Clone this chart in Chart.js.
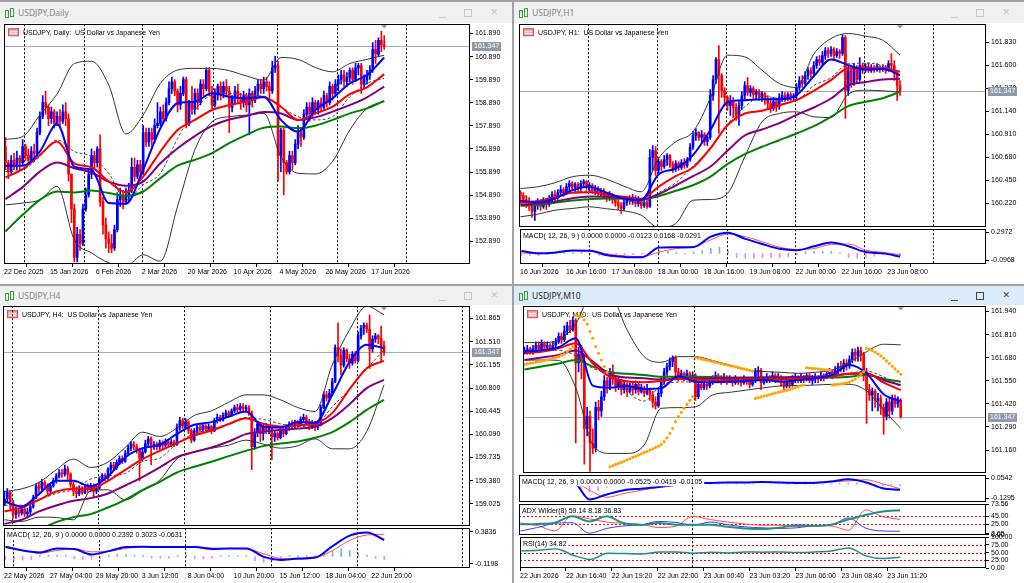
<!DOCTYPE html>
<html>
<head>
<meta charset="utf-8">
<script src="https://cdn.jsdelivr.net/npm/chart.js@4.4.1/dist/chart.umd.min.js"></script>
<style>
body { margin: 0; width: 1024px; height: 583px; background: #a3a3a3; position: relative; overflow: hidden; }
.win { position: absolute; background: #fff; }
.tb { position: absolute; left: 0; top: 0; right: 0; background: #f0f0f0; }
.tb.act { background: #dcebfa; }
.tt { position: absolute; left: 18px; top: 0; font: 8.5px "Noto Sans", sans-serif; color: #868686; }
.act .tt { color: #2a2a2a; }
.ic { position: absolute; left: 5px; width: 10px; height: 11px; }
.ic i { position: absolute; width: 2px; border: 1px solid #3aa03a; }
.ic i:first-child { left: 0; top: 2px; height: 6px; }
.ic i:last-child { left: 5px; top: 0; height: 7px; }
.mn { position: absolute; right: 66px; width: 7px; height: 1px; background: #c6c6c6; }
.mx { position: absolute; right: 40px; width: 6px; height: 6px; border: 1px solid #c6c6c6; }
.cl { position: absolute; right: 14px; font: 9px "DejaVu Sans", sans-serif; color: #c6c6c6; }
.act .mn { background: #444; }
.act .mx { border-color: #444; }
.act .cl { color: #444; }
canvas { position: absolute; }
</style>
</head>
<body>
<script>
// ---------- common axis data ----------
const LABEL_STEP = 16;   // bars between time labels
const LINE_STEP = 6;     // bars between indicator samples
const HIST_STEP = 3;     // bars between histogram samples
const CURRENT_PRICE = 161.347;

// ---------- Daily ----------
const dailyXLabels = ['22 Dec 2025', '15 Jan 2026', '6 Feb 2026', '2 Mar 2026', '20 Mar 2026', '10 Apr 2026', '4 May 2026', '26 May 2026', '17 Jun 2026'];
const dailyYTicks = [161.89, 160.89, 159.89, 158.89, 157.89, 156.89, 155.89, 154.89, 153.89, 152.89];
const dailySeps = [6.5, 27.5, 47.5, 72.5, 94.5, 115.5, 139.5];
const dailyOpen0 = 157.0;
const dailyClose = [
  156.3, 155.9, 156.4, 156.2, 156.5, 156.3, 157.0, 156.6, 156.4, 156.8,
  156.7, 157.6, 158.3, 158.9, 158.7, 158.2, 158.5, 158.0, 158.3, 158.1,
  158.5, 158.2, 155.8, 154.3, 152.2, 153.2, 152.8, 154.3, 154.9, 155.8,
  156.6, 156.3, 156.9, 154.6, 153.6, 153.0, 152.8, 152.6, 153.4, 154.7,
  154.9, 154.6, 154.9, 155.1, 156.1, 155.7, 156.2, 155.9, 157.6, 157.2,
  157.6, 157.3, 157.9, 158.0, 158.5, 158.2, 158.9, 159.5, 159.8, 159.4,
  158.8, 159.3, 159.9, 158.0, 158.9, 158.6, 159.3, 158.9, 159.7, 159.5,
  160.3, 159.4, 158.8, 159.3, 159.6, 159.3, 159.6, 159.4, 158.7, 159.1,
  159.4, 159.1, 158.9, 159.2, 158.8, 159.3, 159.0, 159.4, 159.7, 159.5,
  159.8, 159.6, 159.4, 160.4, 160.5, 156.6, 157.7, 156.3, 155.9, 156.6,
  156.3, 157.1, 157.6, 157.4, 158.4, 158.7, 158.4, 158.9, 158.6, 158.9,
  158.7, 159.2, 158.9, 159.6, 159.3, 159.7, 159.9, 160.1, 159.8, 160.0,
  160.3, 159.9, 160.4, 160.5, 159.7, 159.9, 160.1, 160.3, 161.2, 161.0,
  161.6, 161.4, 161.347];
const dailyHigh = [
  157.4, 156.4, 156.6, 156.7, 156.8, 156.6, 157.3, 157.1, 156.9, 157.0,
  157.1, 157.8, 158.5, 159.2, 159.4, 158.8, 158.7, 158.6, 158.5, 158.6,
  158.8, 158.9, 158.4, 155.8, 154.5, 153.5, 153.4, 154.5, 155.2, 156.0,
  156.9, 156.8, 157.0, 157.5, 154.8, 153.9, 153.3, 153.2, 153.6, 155.0,
  155.2, 155.1, 155.2, 155.4, 156.5, 156.5, 156.4, 156.4, 157.9, 157.8,
  157.8, 157.8, 158.2, 158.9, 158.7, 158.8, 159.1, 159.8, 160.0, 159.9,
  159.5, 159.6, 160.0, 160.0, 159.0, 159.6, 159.5, 159.5, 159.9, 159.9,
  160.4, 160.4, 159.6, 159.5, 159.7, 159.8, 159.8, 159.9, 159.6, 159.2,
  159.6, 159.7, 159.3, 159.4, 159.3, 159.5, 159.4, 159.6, 159.9, 159.9,
  160.0, 160.0, 159.8, 160.7, 160.9, 160.7, 157.8, 157.8, 156.4, 156.8,
  156.8, 157.3, 157.9, 157.8, 158.6, 158.9, 158.9, 159.1, 159.0, 159.0,
  159.1, 159.4, 159.3, 159.8, 159.7, 159.9, 160.1, 160.3, 160.3, 160.2,
  160.4, 160.4, 160.6, 160.6, 160.6, 160.1, 160.3, 160.5, 161.5, 161.6,
  161.7, 162.0, 161.8];
const dailyLow = [
  156.0, 155.6, 155.8, 156.0, 156.0, 156.0, 156.2, 156.4, 156.2, 156.3,
  156.4, 156.6, 157.5, 158.2, 158.4, 157.9, 158.0, 157.8, 157.9, 157.8,
  158.0, 157.9, 155.5, 153.7, 152.0, 152.0, 152.5, 152.7, 154.2, 154.8,
  155.6, 156.0, 156.1, 154.4, 153.2, 152.6, 152.4, 152.4, 152.5, 153.3,
  154.4, 154.3, 154.5, 154.6, 155.0, 155.5, 155.6, 155.6, 155.8, 157.0,
  157.0, 157.0, 157.2, 157.8, 157.9, 158.0, 158.1, 158.8, 159.3, 159.2,
  158.5, 158.6, 159.2, 157.8, 157.9, 158.4, 158.4, 158.6, 158.8, 159.2,
  159.4, 159.2, 158.6, 158.7, 159.0, 159.0, 159.1, 159.2, 157.6, 158.5,
  158.9, 158.9, 158.6, 158.7, 158.5, 157.5, 158.7, 158.9, 159.2, 159.3,
  159.3, 159.4, 159.1, 159.3, 160.2, 155.5, 155.9, 154.9, 155.8, 155.8,
  156.0, 156.2, 156.9, 157.0, 157.3, 158.2, 158.1, 158.3, 158.4, 158.4,
  158.5, 158.6, 158.7, 158.8, 159.0, 159.2, 159.4, 159.7, 159.6, 159.6,
  159.8, 159.7, 159.8, 160.1, 159.3, 159.5, 159.7, 159.9, 160.2, 160.6,
  160.9, 161.1, 161.2];
const dailyMaFast = [156.17, 156.17, 156.78, 157.97, 156.13, 155.99, 154.55, 154.52, 155.99, 157.79, 158.87, 158.94, 159.30, 159.15, 159.08, 159.15, 158.15, 157.64, 158.58, 159.08, 159.73, 160.09, 160.85];
const dailyMaMid = [155.66, 156.02, 156.63, 157.21, 156.27, 156.10, 155.48, 155.01, 155.70, 156.78, 157.71, 158.15, 158.58, 158.79, 158.94, 159.13, 158.72, 158.15, 158.43, 158.72, 159.27, 159.56, 160.13];
const dailyMaSlow = [154.72, 155.24, 155.91, 156.30, 156.06, 155.87, 155.48, 155.30, 155.48, 156.27, 156.92, 157.45, 157.89, 158.17, 158.32, 158.49, 158.43, 158.15, 158.26, 158.51, 158.79, 159.13, 159.59];
const dailyMaLong = [153.32, 154.04, 154.69, 155.05, 155.01, 155.09, 154.98, 154.86, 155.05, 155.63, 156.17, 156.42, 156.71, 157.14, 157.50, 157.81, 157.86, 157.79, 157.90, 158.15, 158.43, 158.65, 158.97];
const dailyBbUp = [157.31, 157.43, 158.36, 159.27, 160.59, 160.69, 159.66, 157.54, 158.36, 159.73, 160.31, 160.38, 160.38, 160.28, 160.05, 159.87, 160.85, 160.77, 160.42, 160.23, 160.59, 160.77, 160.95];
const dailyBbLow = [154.47, 154.55, 154.69, 155.27, 152.96, 152.39, 151.96, 151.81, 152.31, 152.03, 154.41, 156.85, 158.07, 158.29, 158.36, 158.43, 156.56, 155.84, 155.81, 156.35, 157.71, 158.65, 158.94];
const dailyBbMid = [155.91, 155.99, 156.56, 157.28, 156.78, 156.56, 155.84, 154.69, 155.34, 155.84, 157.35, 158.58, 159.23, 159.30, 159.23, 159.15, 158.72, 158.29, 158.15, 158.29, 159.15, 159.73, 159.95];

// ---------- H1 ----------
const h1XLabels = ['16 Jun 2026', '16 Jun 16:00', '17 Jun 08:00', '18 Jun 00:00', '18 Jun 16:00', '19 Jun 08:00', '22 Jun 00:00', '22 Jun 16:00', '23 Jun 08:00'];
const h1YTicks = [161.83, 161.60, 161.37, 161.14, 160.91, 160.68, 160.45, 160.22];
const h1Seps = [23.5, 47.5, 71.5, 95.5, 119.5, 143.5];
const h1Open0 = 160.33;
const h1Close = [
  160.30, 160.26, 160.24, 160.20, 160.14, 160.20, 160.22, 160.19, 160.24, 160.21,
  160.27, 160.31, 160.28, 160.33, 160.36, 160.32, 160.39, 160.42, 160.38, 160.41,
  160.37, 160.42, 160.44, 160.38, 160.40, 160.35, 160.37, 160.33, 160.35, 160.30,
  160.27, 160.31, 160.26, 160.23, 160.20, 160.17, 160.23, 160.27, 160.24, 160.28,
  160.22, 160.25, 160.20, 160.23, 160.19, 160.68, 160.75, 160.55, 160.64, 160.59,
  160.66, 160.70, 160.61, 160.57, 160.62, 160.58, 160.63, 160.60, 160.66, 160.78,
  160.90, 160.93, 160.88, 160.91, 160.84, 160.88, 161.30, 161.46, 161.66, 161.50,
  161.35, 161.28, 161.20, 161.25, 161.18, 161.10, 161.20, 161.30, 161.40, 161.33,
  161.37, 161.31, 161.34, 161.28, 161.32, 161.26, 161.22, 161.17, 161.24, 161.19,
  161.28, 161.30, 161.27, 161.31, 161.28, 161.30, 161.38, 161.45, 161.42, 161.50,
  161.55, 161.52, 161.60, 161.66, 161.63, 161.70, 161.75, 161.72, 161.76, 161.70,
  161.74, 161.72, 161.88, 161.35, 161.55, 161.42, 161.57, 161.46, 161.60, 161.56,
  161.59, 161.55, 161.58, 161.56, 161.59, 161.56, 161.58, 161.55, 161.62, 161.60,
  161.52, 161.40, 161.347];
const h1High = [
  160.35, 160.33, 160.30, 160.28, 160.23, 160.24, 160.27, 160.26, 160.28, 160.27,
  160.30, 160.34, 160.35, 160.36, 160.40, 160.38, 160.42, 160.45, 160.44, 160.43,
  160.43, 160.45, 160.46, 160.45, 160.43, 160.42, 160.40, 160.39, 160.37, 160.37,
  160.33, 160.34, 160.32, 160.29, 160.27, 160.23, 160.26, 160.29, 160.30, 160.31,
  160.30, 160.29, 160.27, 160.27, 160.25, 160.76, 160.80, 160.79, 160.68, 160.66,
  160.70, 160.72, 160.71, 160.64, 160.65, 160.64, 160.66, 160.67, 160.68, 160.82,
  160.94, 160.97, 160.94, 160.95, 160.93, 160.90, 161.36, 161.50, 161.68, 161.80,
  161.52, 161.38, 161.30, 161.30, 161.28, 161.22, 161.24, 161.34, 161.44, 161.48,
  161.40, 161.39, 161.36, 161.36, 161.34, 161.33, 161.30, 161.25, 161.28, 161.27,
  161.32, 161.34, 161.33, 161.33, 161.33, 161.32, 161.42, 161.49, 161.50, 161.54,
  161.58, 161.58, 161.64, 161.69, 161.70, 161.74, 161.78, 161.78, 161.79, 161.78,
  161.77, 161.76, 161.91, 161.90, 161.60, 161.58, 161.62, 161.60, 161.68, 161.62,
  161.62, 161.63, 161.61, 161.60, 161.62, 161.60, 161.61, 161.60, 161.65, 161.72,
  161.65, 161.55, 161.45];
const h1Low = [
  160.22, 160.22, 160.18, 160.15, 160.08, 160.05, 160.16, 160.15, 160.17, 160.16,
  160.19, 160.24, 160.25, 160.26, 160.30, 160.29, 160.31, 160.35, 160.35, 160.34,
  160.33, 160.35, 160.38, 160.36, 160.33, 160.32, 160.31, 160.30, 160.29, 160.27,
  160.24, 160.25, 160.22, 160.19, 160.16, 160.12, 160.15, 160.20, 160.21, 160.21,
  160.19, 160.19, 160.17, 160.18, 160.17, 160.18, 160.55, 160.50, 160.52, 160.55,
  160.57, 160.60, 160.58, 160.53, 160.54, 160.55, 160.56, 160.57, 160.58, 160.64,
  160.76, 160.85, 160.85, 160.84, 160.80, 160.80, 160.86, 161.25, 161.42, 160.92,
  161.28, 161.20, 161.15, 161.10, 161.08, 161.05, 161.00, 161.16, 161.26, 161.30,
  161.29, 161.27, 161.26, 161.25, 161.24, 161.21, 161.17, 161.13, 161.15, 161.14,
  161.16, 161.24, 161.24, 161.25, 161.25, 161.24, 161.26, 161.35, 161.38, 161.40,
  161.46, 161.48, 161.50, 161.57, 161.60, 161.60, 161.66, 161.68, 161.69, 161.66,
  161.68, 161.67, 161.70, 161.07, 161.30, 161.38, 161.40, 161.42, 161.44, 161.52,
  161.53, 161.53, 161.53, 161.53, 161.54, 161.53, 161.54, 161.52, 161.54, 161.56,
  161.45, 161.25, 161.30];
const h1MaFast = [160.247, 160.233, 160.27, 160.353, 160.387, 160.327, 160.27, 160.257, 160.51, 160.57, 160.703, 160.953, 161.233, 161.253, 161.263, 161.263, 161.303, 161.493, 161.66, 161.603, 161.56, 161.567, 161.503];
const h1MaMid = [160.227, 160.243, 160.28, 160.327, 160.333, 160.307, 160.287, 160.267, 160.387, 160.493, 160.58, 160.77, 161.003, 161.12, 161.147, 161.203, 161.253, 161.347, 161.453, 161.57, 161.57, 161.57, 161.537];
const h1MaSlow = [160.207, 160.22, 160.24, 160.273, 160.29, 160.287, 160.273, 160.26, 160.313, 160.4, 160.493, 160.587, 160.747, 160.9, 160.96, 161.023, 161.107, 161.18, 161.27, 161.4, 161.433, 161.46, 161.467];
const h1MaLong = [160.197, 160.207, 160.227, 160.25, 160.263, 160.27, 160.267, 160.26, 160.293, 160.347, 160.403, 160.487, 160.613, 160.713, 160.787, 160.853, 160.92, 160.993, 161.087, 161.193, 161.237, 161.273, 161.337];
const h1BbUp = [160.37, 160.387, 160.427, 160.487, 160.503, 160.463, 160.393, 160.337, 160.67, 160.837, 160.937, 161.27, 161.703, 161.687, 161.553, 161.42, 161.38, 161.713, 161.87, 161.92, 161.893, 161.853, 161.703];
const h1BbLow = [160.087, 160.113, 160.153, 160.17, 160.187, 160.167, 160.147, 160.103, 159.98, 160.02, 160.253, 160.26, 160.32, 160.687, 161.037, 161.12, 161.137, 161.087, 161.08, 161.313, 161.353, 161.347, 161.333];
const h1BbMid = [160.23, 160.25, 160.29, 160.327, 160.347, 160.317, 160.27, 160.22, 160.327, 160.427, 160.593, 160.767, 161.013, 161.187, 161.293, 161.27, 161.26, 161.4, 161.477, 161.617, 161.623, 161.6, 161.52];
const h1MacdMain = [0.0316, -0.0005, 0.0132, 0.0407, 0.0361, -0.028, -0.0509, -0.0555, 0.0819, 0.0865, 0.0911, 0.2377, 0.2926, 0.2056, 0.1323, 0.0636, 0.0453, 0.1003, 0.1552, 0.1003, 0.0178, -0.0005, -0.0463];
const h1MacdSignal = [0.0087, -0.0051, 0.0087, 0.0361, 0.0361, -0.0097, -0.0371, -0.0463, 0.0178, 0.0682, 0.0911, 0.1919, 0.2743, 0.2377, 0.1644, 0.0865, 0.0544, 0.0682, 0.1277, 0.1323, 0.0453, 0.0132, -0.0188];
const h1MacdHist = [-0.03, -0.03, -0.03, -0.02, 0.01, 0.01, 0.01, 0.01, -0.02, -0.03, -0.03, -0.03, -0.02, -0.02, -0.01, 0.03, 0.04, 0.03, 0.01, -0.01, 0.02, 0.04, 0.07, 0.09, 0.04, -0.06, -0.07, -0.07, -0.06, -0.06, -0.06, -0.05, -0.02, 0.02, 0.03, 0.03, 0.03, 0.01, -0.06, -0.07, -0.06, -0.04, -0.02, -0.01, -0.03];

// ---------- H4 ----------
const h4XLabels = ['22 May 2026', '27 May 04:00', '29 May 20:00', '3 Jun 12:00', '8 Jun 04:00', '10 Jun 20:00', '15 Jun 12:00', '18 Jun 04:00', '22 Jun 20:00'];
const h4YTicks = [161.865, 161.51, 161.155, 160.80, 160.445, 160.09, 159.735, 159.38, 159.025];
const h4Seps = [2.5, 32.5, 62.5, 92.5, 122.5, 159];
const h4Open0 = 159.00;
const h4Close = [
  159.10, 159.20, 159.05, 158.86, 158.92, 158.88, 158.95, 158.87, 158.90, 158.98,
  159.12, 159.30, 159.26, 159.35, 159.30, 159.22, 159.30, 159.38, 159.45, 159.50,
  159.48, 159.56, 159.48, 159.32, 159.22, 159.18, 159.26, 159.20, 159.28, 159.24,
  159.30, 159.22, 159.26, 159.40, 159.46, 159.42, 159.55, 159.62, 159.58, 159.66,
  159.72, 159.68, 159.80, 159.88, 159.94, 159.90, 159.85, 159.72, 159.82, 159.95,
  160.02, 159.90, 159.94, 159.90, 159.96, 159.92, 159.98, 159.94, 159.97, 159.93,
  160.20, 160.30, 160.22, 160.28, 160.15, 160.00, 160.14, 160.20, 160.16, 160.22,
  160.17, 160.21, 160.14, 160.30, 160.35, 160.31, 160.38, 160.42, 160.38, 160.45,
  160.50, 160.47, 160.52, 160.48, 160.50, 160.42, 159.90, 160.12, 160.25, 160.10,
  160.20, 160.16, 160.18, 160.05, 160.10, 160.04, 160.15, 160.10, 160.20, 160.24,
  160.22, 160.28, 160.24, 160.32, 160.35, 160.28, 160.22, 160.26, 160.20, 160.24,
  160.50, 160.70, 160.65, 160.72, 160.90, 161.42, 161.30, 161.15, 161.38, 161.25,
  161.18, 161.32, 161.22, 161.60, 161.72, 161.76, 161.70, 161.40, 161.55, 161.60,
  161.56, 161.45, 161.347];
const h4High = [
  159.22, 159.26, 159.22, 159.08, 158.98, 158.96, 158.99, 158.97, 158.96, 159.02,
  159.16, 159.33, 159.36, 159.40, 159.38, 159.33, 159.34, 159.42, 159.49, 159.55,
  159.55, 159.62, 159.60, 159.50, 159.36, 159.28, 159.30, 159.29, 159.32, 159.33,
  159.34, 159.33, 159.30, 159.43, 159.49, 159.49, 159.58, 159.66, 159.66, 159.70,
  159.76, 159.76, 159.84, 159.92, 159.98, 159.98, 159.94, 159.88, 159.86, 160.00,
  160.06, 160.05, 159.98, 159.97, 160.00, 159.99, 160.02, 160.00, 160.01, 160.00,
  160.25, 160.35, 160.34, 160.33, 160.30, 160.18, 160.18, 160.23, 160.24, 160.25,
  160.24, 160.25, 160.23, 160.34, 160.40, 160.38, 160.42, 160.46, 160.45, 160.48,
  160.54, 160.55, 160.56, 160.56, 160.54, 160.53, 160.45, 160.18, 160.28, 160.27,
  160.24, 160.26, 160.22, 160.20, 160.15, 160.13, 160.18, 160.18, 160.24, 160.28,
  160.30, 160.31, 160.30, 160.36, 160.40, 160.38, 160.32, 160.30, 160.29, 160.28,
  160.54, 160.74, 160.75, 160.78, 160.95, 161.46, 161.80, 161.40, 161.42, 161.40,
  161.32, 161.36, 161.36, 161.66, 161.76, 161.80, 161.80, 161.92, 161.60, 161.64,
  161.62, 161.75, 161.52];
const h4Low = [
  159.00, 159.05, 158.95, 158.80, 158.80, 158.82, 158.85, 158.83, 158.81, 158.86,
  158.96, 159.10, 159.20, 159.22, 159.24, 159.18, 159.19, 159.28, 159.34, 159.42,
  159.43, 159.45, 159.40, 159.28, 159.15, 159.12, 159.15, 159.17, 159.18, 159.20,
  159.21, 159.13, 159.18, 159.24, 159.36, 159.38, 159.40, 159.50, 159.54, 159.55,
  159.62, 159.64, 159.66, 159.76, 159.84, 159.85, 159.80, 159.38, 159.68, 159.80,
  159.90, 159.62, 159.86, 159.85, 159.86, 159.87, 159.88, 159.90, 159.90, 159.90,
  159.92, 160.15, 160.18, 160.18, 160.10, 159.96, 159.98, 160.10, 160.12, 160.13,
  160.14, 160.15, 160.10, 160.13, 160.26, 160.28, 160.29, 160.34, 160.35, 160.36,
  160.42, 160.43, 160.44, 160.44, 160.43, 160.38, 159.55, 159.86, 160.05, 159.98,
  160.00, 160.10, 160.10, 159.70, 159.98, 160.00, 160.02, 160.05, 160.08, 160.15,
  160.18, 160.19, 160.20, 160.22, 160.28, 160.24, 160.16, 160.18, 160.15, 160.16,
  160.22, 160.48, 160.60, 160.60, 160.68, 160.88, 161.20, 161.00, 161.12, 161.20,
  161.10, 161.15, 161.18, 161.20, 161.55, 161.62, 161.65, 161.10, 161.35, 161.50,
  161.48, 161.22, 161.30];
const h4MaFast = [159.061, 158.985, 159.174, 159.378, 159.378, 159.291, 159.444, 159.735, 159.878, 159.929, 160.098, 160.236, 160.277, 160.363, 160.44, 160.21, 160.195, 160.277, 160.266, 160.695, 161.196, 161.462, 161.41];
const h4MaMid = [158.908, 158.969, 159.087, 159.214, 159.255, 159.255, 159.378, 159.546, 159.71, 159.837, 159.955, 160.072, 160.149, 160.246, 160.338, 160.251, 160.21, 160.231, 160.256, 160.415, 160.782, 161.104, 161.216];
const h4MaSlow = [158.719, 158.78, 158.908, 158.999, 159.071, 159.112, 159.184, 159.306, 159.434, 159.582, 159.741, 159.817, 159.889, 159.981, 160.093, 160.134, 160.159, 160.18, 160.205, 160.338, 160.552, 160.798, 160.925];
const h4MaLong = [158.474, 158.55, 158.627, 158.744, 158.821, 158.867, 158.969, 159.087, 159.235, 159.362, 159.505, 159.592, 159.669, 159.756, 159.837, 159.909, 159.95, 159.98, 160.037, 160.124, 160.277, 160.466, 160.619];
const h4BbUp = [159.214, 159.255, 159.352, 159.546, 159.71, 159.582, 159.664, 159.888, 160.123, 160.057, 160.185, 160.379, 160.45, 160.583, 160.695, 160.695, 160.619, 160.501, 160.44, 161.155, 161.691, 162.054, 161.921];
const h4BbLow = [158.78, 158.755, 158.821, 158.816, 158.78, 159.225, 159.24, 159.087, 159.225, 159.388, 159.715, 159.827, 159.878, 159.924, 160.001, 159.94, 159.878, 159.914, 160.021, 159.868, 159.868, 160.134, 160.849];
const h4BbMid = [159.0, 159.005, 159.087, 159.184, 159.245, 159.403, 159.454, 159.49, 159.674, 159.725, 159.95, 160.103, 160.164, 160.256, 160.348, 160.318, 160.251, 160.21, 160.231, 160.512, 160.782, 161.094, 161.385];
const h4MacdMain = [0.1504, 0.0922, 0.0604, 0.1239, 0.1134, 0.0286, 0.0816, 0.1451, 0.1504, 0.1451, 0.1451, 0.1451, 0.1134, 0.1239, 0.1239, -0.0085, -0.0562, -0.035, -0.0191, 0.161, 0.3253, 0.373, 0.2564];
const h4MacdSignal = [0.1345, 0.0922, 0.0498, 0.0922, 0.1186, 0.0709, 0.0816, 0.1239, 0.1504, 0.1451, 0.1451, 0.1504, 0.1292, 0.1239, 0.1186, 0.0392, -0.035, -0.0456, -0.0244, 0.0922, 0.2511, 0.3359, 0.3465];
const h4MacdHist = [-0.05, -0.06, -0.06, -0.05, 0.02, 0.02, 0.02, 0.02, -0.04, -0.05, -0.05, -0.03, 0.02, 0.03, 0.03, 0.02, 0.01, -0.03, -0.03, -0.03, 0.02, 0.02, -0.04, -0.04, -0.03, 0.01, 0.01, 0.01, 0.01, -0.07, -0.09, -0.07, -0.03, 0.01, 0.01, 0.01, 0.01, 0.05, 0.09, 0.12, 0.09, 0.05, 0.02, -0.03, -0.05];

// ---------- M10 ----------
const m10XLabels = ['22 Jun 2026', '22 Jun 16:40', '22 Jun 19:20', '22 Jun 22:00', '23 Jun 00:40', '23 Jun 03:20', '23 Jun 06:00', '23 Jun 08:40', '23 Jun 11:20'];
const m10YTicks = [161.94, 161.81, 161.68, 161.55, 161.42, 161.29, 161.16];
const m10Seps = [59.5];
const m10Open0 = 161.71;
const m10Close = [
  161.72, 161.73, 161.71, 161.73, 161.75, 161.73, 161.76, 161.74, 161.75, 161.73,
  161.75, 161.77, 161.80, 161.78, 161.83, 161.86, 161.84, 161.89, 161.65, 161.70,
  161.66, 161.28, 161.35, 161.20, 161.17, 161.40, 161.38, 161.46, 161.55, 161.52,
  161.60, 161.56, 161.52, 161.55, 161.50, 161.53, 161.49, 161.52, 161.50, 161.53,
  161.49, 161.51, 161.48, 161.50, 161.47, 161.43, 161.41, 161.48, 161.55, 161.60,
  161.63, 161.66, 161.68, 161.60, 161.58, 161.59, 161.57, 161.59, 161.56, 161.58,
  161.46, 161.53, 161.51, 161.53, 161.52, 161.54, 161.56, 161.58, 161.56, 161.55,
  161.57, 161.55, 161.56, 161.54, 161.56, 161.55, 161.54, 161.56, 161.55, 161.53,
  161.55, 161.60, 161.61, 161.54, 161.55, 161.57, 161.56, 161.58, 161.56, 161.57,
  161.54, 161.52, 161.55, 161.53, 161.56, 161.57, 161.55, 161.57, 161.56, 161.58,
  161.55, 161.56, 161.57, 161.56, 161.58, 161.57, 161.59, 161.60, 161.58, 161.61,
  161.63, 161.62, 161.65, 161.64, 161.67, 161.71, 161.69, 161.72, 161.70, 161.60,
  161.50, 161.47, 161.49, 161.44, 161.45, 161.40, 161.35, 161.43, 161.38, 161.45,
  161.42, 161.44, 161.347];
const m10High = [
  161.74, 161.75, 161.74, 161.75, 161.77, 161.77, 161.78, 161.77, 161.77, 161.76,
  161.77, 161.79, 161.82, 161.82, 161.86, 161.88, 161.89, 161.91, 161.90, 161.74,
  161.75, 161.70, 161.40, 161.38, 161.28, 161.43, 161.44, 161.49, 161.58, 161.57,
  161.62, 161.64, 161.58, 161.57, 161.56, 161.55, 161.54, 161.54, 161.54, 161.55,
  161.54, 161.53, 161.52, 161.53, 161.51, 161.49, 161.46, 161.50, 161.57, 161.62,
  161.65, 161.68, 161.69, 161.69, 161.62, 161.61, 161.60, 161.61, 161.60, 161.60,
  161.59, 161.55, 161.55, 161.55, 161.54, 161.56, 161.58, 161.60, 161.59, 161.58,
  161.59, 161.58, 161.58, 161.57, 161.58, 161.57, 161.56, 161.58, 161.57, 161.56,
  161.57, 161.62, 161.63, 161.62, 161.57, 161.59, 161.58, 161.60, 161.59, 161.59,
  161.58, 161.55, 161.56, 161.56, 161.58, 161.59, 161.58, 161.59, 161.58, 161.59,
  161.59, 161.58, 161.59, 161.58, 161.60, 161.59, 161.61, 161.62, 161.61, 161.63,
  161.65, 161.66, 161.67, 161.67, 161.69, 161.73, 161.73, 161.74, 161.74, 161.71,
  161.62, 161.53, 161.51, 161.50, 161.48, 161.47, 161.42, 161.45, 161.45, 161.47,
  161.47, 161.46, 161.45];
const m10Low = [
  161.70, 161.70, 161.70, 161.70, 161.72, 161.72, 161.72, 161.73, 161.73, 161.72,
  161.72, 161.74, 161.76, 161.76, 161.77, 161.81, 161.82, 161.83, 161.20, 161.60,
  161.56, 161.08, 161.24, 161.04, 161.14, 161.15, 161.33, 161.35, 161.44, 161.48,
  161.50, 161.53, 161.49, 161.50, 161.47, 161.48, 161.46, 161.48, 161.47, 161.48,
  161.47, 161.48, 161.46, 161.47, 161.44, 161.40, 161.39, 161.40, 161.46, 161.53,
  161.58, 161.61, 161.63, 161.56, 161.55, 161.56, 161.55, 161.56, 161.54, 161.55,
  161.44, 161.45, 161.50, 161.50, 161.50, 161.51, 161.53, 161.55, 161.54, 161.53,
  161.54, 161.53, 161.54, 161.52, 161.53, 161.53, 161.52, 161.53, 161.53, 161.51,
  161.52, 161.54, 161.57, 161.50, 161.53, 161.54, 161.54, 161.55, 161.54, 161.55,
  161.52, 161.50, 161.51, 161.51, 161.52, 161.54, 161.54, 161.54, 161.54, 161.55,
  161.54, 161.53, 161.54, 161.54, 161.55, 161.55, 161.56, 161.57, 161.56, 161.57,
  161.59, 161.60, 161.60, 161.61, 161.62, 161.65, 161.66, 161.66, 161.66, 161.55,
  161.31, 161.44, 161.38, 161.40, 161.38, 161.36, 161.25, 161.33, 161.34, 161.36,
  161.40, 161.40, 161.34];
const m10Sar = [
  161.643, 161.645, 161.649, 161.651, 161.654, 161.658, 161.660, 161.664, 161.667, 161.673,
  161.677, 161.681, 161.686, 161.694, 161.701, 161.714, 161.728, 161.741, 161.917, 161.916,
  161.912, 161.893, 161.869, 161.827, 161.790, 161.743, 161.705, 161.667, 161.630, 161.598,
  161.066, 161.072, 161.079, 161.085, 161.092, 161.098, 161.105, 161.111, 161.119, 161.124,
  161.132, 161.139, 161.147, 161.152, 161.160, 161.167, 161.175, 161.182, 161.192, 161.207,
  161.229, 161.254, 161.282, 161.320, 161.348, 161.372, 161.395, 161.417, 161.440, 161.461,
  161.681, 161.677, 161.673, 161.669, 161.666, 161.662, 161.658, 161.654, 161.651, 161.647,
  161.643, 161.639, 161.635, 161.632, 161.628, 161.624, 161.620, 161.617, 161.613, 161.609,
  161.605, 161.451, 161.455, 161.459, 161.464, 161.468, 161.472, 161.476, 161.481, 161.485,
  161.489, 161.493, 161.496, 161.502, 161.506, 161.511, 161.517, 161.523, 161.526, 161.624,
  161.622, 161.620, 161.619, 161.617, 161.615, 161.613, 161.611, 161.609, 161.526, 161.528,
  161.530, 161.532, 161.534, 161.538, 161.543, 161.551, 161.560, 161.572, 161.587, 161.602,
  161.733, 161.728, 161.720, 161.711, 161.701, 161.690, 161.677, 161.662, 161.647, 161.632,
  161.617, 161.602, 161.587];
const m10MaFast = [161.714, 161.722, 161.739, 161.79, 161.523, 161.511, 161.521, 161.504, 161.508, 161.575, 161.545, 161.542, 161.545, 161.549, 161.555, 161.545, 161.555, 161.564, 161.583, 161.639, 161.592, 161.474, 161.436];
const m10MaMid = [161.705, 161.714, 161.733, 161.761, 161.647, 161.572, 161.547, 161.542, 161.549, 161.56, 161.557, 161.553, 161.553, 161.555, 161.557, 161.558, 161.56, 161.564, 161.575, 161.59, 161.592, 161.54, 161.498];
const m10MaSlow = [161.667, 161.681, 161.696, 161.72, 161.658, 161.587, 161.568, 161.564, 161.557, 161.564, 161.564, 161.564, 161.566, 161.568, 161.57, 161.57, 161.572, 161.573, 161.579, 161.589, 161.59, 161.553, 161.526];
const m10MaLong = [161.613, 161.63, 161.647, 161.667, 161.63, 161.598, 161.59, 161.583, 161.573, 161.573, 161.573, 161.572, 161.568, 161.566, 161.564, 161.564, 161.564, 161.566, 161.568, 161.573, 161.583, 161.562, 161.545];
const m10BbUp = [161.765, 161.765, 161.78, 161.87, 162.05, 162.04, 161.837, 161.686, 161.654, 161.686, 161.686, 161.664, 161.639, 161.611, 161.602, 161.598, 161.592, 161.598, 161.611, 161.654, 161.714, 161.756, 161.752];
const m10BbLow = [161.667, 161.667, 161.665, 161.51, 161.19, 161.141, 161.141, 161.188, 161.395, 161.399, 161.404, 161.47, 161.485, 161.498, 161.511, 161.521, 161.523, 161.526, 161.53, 161.53, 161.493, 161.385, 161.282];
const m10BbMid = [161.716, 161.716, 161.722, 161.69, 161.62, 161.59, 161.489, 161.436, 161.525, 161.543, 161.545, 161.568, 161.562, 161.555, 161.557, 161.56, 161.558, 161.562, 161.572, 161.592, 161.604, 161.572, 161.517];
const m10MacdMain = [0.0127, 0.0186, 0.0246, 0.0335, -0.14, -0.094, -0.0554, -0.0406, -0.0258, -0.0051, 0.0127, 0.0127, 0.0157, 0.0157, 0.0216, 0.0157, 0.0127, 0.0127, 0.0246, 0.0453, 0.0186, -0.0377, -0.0525];
const m10MacdSignal = [0.0068, 0.0127, 0.0186, 0.0246, -0.0554, -0.12, -0.0851, -0.0554, -0.0288, -0.011, 0.0098, 0.0157, 0.0186, 0.0186, 0.0186, 0.0186, 0.0186, 0.0186, 0.0216, 0.0305, 0.0423, 0.0038, -0.0419];
const m10MacdHist = [0, 0, 0, 0.005, 0.005, 0.008, 0.008, -0.05, -0.07, -0.06, -0.03, -0.01, 0, 0, 0, 0, 0, 0.005, 0.005, 0, 0, 0, 0, 0, 0, 0, 0, 0, 0, 0, 0, 0, 0, 0, 0, 0, 0.005, 0.008, 0.01, 0.01, 0.005, -0.01, -0.015, -0.01, -0.012];
const m10AdxMain = [25, 25.8, 28.8, 44.2, 31.9, 44.2, 27.3, 23.5, 28.1, 24.2, 24.2, 24.2, 18.8, 15.0, 13.5, 16.5, 22.7, 21.2, 24.2, 36.5, 47.3, 56, 59.1];
const m10AdxPlus = [8.85, 17.3, 27.3, 28.8, 3.5, 15.0, 21.2, 23.5, 31.9, 29.6, 22.7, 30.4, 24.2, 18.8, 16.5, 15.0, 16.5, 21.2, 22.7, 40.4, 15.8, 8.85, 8.2];
const m10AdxMinus = [28.1, 21.9, 8.85, 45.8, 38.1, 30.4, 27.3, 25.0, 17.3, 20.4, 44.2, 36.5, 30.4, 25.8, 22.7, 22.7, 19.6, 21.2, 21.2, 10.4, 59.6, 43.5, 36.8];
const m10Rsi = [55.3, 57.4, 62.8, 41.5, 27.7, 47.9, 46.8, 45.7, 52.1, 52.1, 47.9, 51.1, 48.9, 52.1, 51.1, 52.1, 50, 52.1, 55.3, 64.9, 39.4, 30.8, 34.8];

// ---------- drawing ----------
Chart.defaults.font.family = '"Liberation Sans", Arial, sans-serif';
const TICK_FONT = { size: 7 };
const BULL = '#0000ff';
const BEAR = '#ff0000';
const PAD = 6;

function line(vals, color, width, dash) {
  return {
    type: 'line', order: 1, clip: 0,
    data: vals.map((v, j) => ({ x: j * LINE_STEP, y: v })),
    borderColor: color, borderWidth: width, borderDash: dash || [],
    pointRadius: 0, cubicInterpolationMode: 'monotone'
  };
}

function candles(open0, close, high, low) {
  const open = close.map((c, i) => (i ? close[i - 1] : open0));
  const col = close.map((c, i) => (c >= open[i] ? BULL : BEAR));
  return [
    { type: 'bar', order: 6, grouped: false, barThickness: 1, borderWidth: 0, backgroundColor: col, clip: 0,
      data: close.map((c, i) => ({ x: i, y: [low[i], high[i]] })) },
    { type: 'bar', order: 5, grouped: false, barThickness: 2, minBarLength: 1, borderWidth: 0, backgroundColor: col, clip: 0,
      data: close.map((c, i) => ({ x: i, y: [open[i], c] })) }
  ];
}

function hist(vals) {
  return {
    type: 'bar', order: 4, grouped: false, barThickness: 1, borderWidth: 0, clip: 0,
    data: vals.map((v, j) => ({ x: j * HIST_STEP, y: v })),
    backgroundColor: vals.map(v => (v >= 0 ? 'rgba(0,140,130,0.55)' : 'rgba(255,0,255,0.5)'))
  };
}

function mainSets(m) {
  return [
    line(m.fast, '#0000ff', 2), line(m.mid, '#ff0000', 2), line(m.slow, '#800080', 2), line(m.long, '#008000', 2),
    line(m.bbMid, '#4a4a4a', 1, [3, 2]), line(m.bbUp, '#333333', 1), line(m.bbLow, '#333333', 1),
    ...candles(m.open0, m.close, m.high, m.low)
  ];
}

function macdSets(main, signal, h) {
  return [line(main, '#0000ff', 2), line(signal, '#ff5050', 1), hist(h)];
}

const mtPane = {
  id: 'mtPane',
  beforeDatasetsDraw(chart) {
    const p = chart.canvas._pane;
    const { ctx, chartArea: a, scales: { x, y } } = chart;
    ctx.save();
    ctx.lineWidth = 1;
    if (p.legend) {
      ctx.fillStyle = '#f2a3a3'; ctx.fillRect(a.left + 4, a.top + 4, 11, 8);
      ctx.strokeStyle = '#d85050'; ctx.strokeRect(a.left + 4.5, a.top + 4.5, 10, 7);
      ctx.fillStyle = '#ffffff'; ctx.fillRect(a.left + 6, a.top + 7, 7, 1); ctx.fillRect(a.left + 6, a.top + 9, 7, 1);
      ctx.font = '7px "Liberation Sans"'; ctx.textBaseline = 'middle'; ctx.fillStyle = '#000';
      ctx.fillText(p.legend, a.left + 19, a.top + 8.5);
    }
    ctx.setLineDash([2, 2]);
    ctx.strokeStyle = '#000';
    for (const v of p.seps) {
      const px = Math.round(x.getPixelForValue(v)) + 0.5;
      ctx.beginPath(); ctx.moveTo(px, a.top); ctx.lineTo(px, a.bottom); ctx.stroke();
    }
    ctx.strokeStyle = '#ff0000';
    for (const v of (p.levels || [])) {
      const py = Math.round(y.getPixelForValue(v)) + 0.5;
      ctx.beginPath(); ctx.moveTo(a.left, py); ctx.lineTo(a.right, py); ctx.stroke();
    }
    ctx.setLineDash([]);
    if (p.price != null) {
      ctx.strokeStyle = '#a4adba';
      const py = Math.round(y.getPixelForValue(p.price)) + 0.5;
      ctx.beginPath(); ctx.moveTo(a.left, py); ctx.lineTo(a.right, py); ctx.stroke();
    }
    ctx.restore();
  },
  afterDraw(chart) {
    const p = chart.canvas._pane;
    const { ctx, chartArea: a, scales: { x, y } } = chart;
    ctx.save();
    ctx.strokeStyle = '#000'; ctx.lineWidth = 1;
    ctx.strokeRect(Math.round(a.left) + 0.5, Math.round(a.top) + 0.5, Math.round(a.width) - 1, Math.round(a.height) - 1);
    ctx.font = '7px "Liberation Sans"'; ctx.textBaseline = 'middle';
    if (p.label) {
      const w = ctx.measureText(p.label).width;
      ctx.fillStyle = '#fff'; ctx.fillRect(a.left + 1, a.top + 2, w + 4, 9);
      ctx.fillStyle = '#000'; ctx.fillText(p.label, a.left + 3, a.top + 7);
    }
    if (p.price != null) {
      const py = Math.round(y.getPixelForValue(p.price));
      ctx.fillStyle = '#8e9aab'; ctx.fillRect(a.right + 2, py - 4, 29, 9);
      ctx.fillStyle = '#fff'; ctx.fillText(p.price.toFixed(3), a.right + 4, py + 0.5);
    }
    if (p.shift != null) {
      const px = x.getPixelForValue(p.shift);
      ctx.fillStyle = '#7f8ea4';
      ctx.beginPath(); ctx.moveTo(px - 3, a.top + 1); ctx.lineTo(px + 3, a.top + 1); ctx.lineTo(px, a.top + 4); ctx.fill();
    }
    ctx.restore();
  }
};

function makePane(p) {
  const cv = document.createElement('canvas');
  const lblH = p.xLabels ? 16 : 0;
  const w = p.winRight - p.plotLeft;
  const h = p.bottom - p.top + PAD + (lblH || PAD);
  cv.width = w; cv.height = h;
  cv.style.left = p.plotLeft + 'px';
  cv.style.top = (p.top - PAD) + 'px';
  cv._pane = p;
  document.body.appendChild(cv);
  new Chart(cv, {
    type: 'line',
    data: { datasets: p.datasets },
    options: {
      responsive: false, animation: false, devicePixelRatio: 1, events: [],
      layout: { padding: { top: PAD, bottom: lblH ? 0 : PAD, left: 0, right: 0 } },
      plugins: { legend: { display: false }, tooltip: { enabled: false } },
      scales: {
        x: {
          type: 'linear', min: -0.5, max: 161.9, offset: false, display: !!p.xLabels,
          afterFit: s => { s.height = lblH; },
          afterBuildTicks: s => { s.ticks = (p.xLabels || []).map((t, i) => ({ value: i * LABEL_STEP - 0.5 })); },
          ticks: { callback: (v, i) => p.xLabels[i], align: 'start', maxRotation: 0, autoSkip: false, font: TICK_FONT, color: '#000', padding: 1 },
          grid: { drawOnChartArea: false, drawTicks: true, tickLength: 3, color: '#000' },
          border: { display: false }
        },
        y: {
          position: 'right', min: p.yMin, max: p.yMax, bounds: 'data',
          afterFit: s => { s.width = p.winRight - p.plotRight; },
          afterBuildTicks: s => { s.ticks = p.yTicks.map(v => ({ value: v })); },
          ticks: { callback: v => v.toFixed(p.dec), font: TICK_FONT, color: '#000', padding: 2, autoSkip: false },
          grid: { drawOnChartArea: false, drawTicks: true, tickLength: 3, color: '#000' },
          border: { display: false }
        }
      }
    },
    plugins: [mtPane]
  });
}

function makeWin(x, y, w, h, tb, title, active) {
  const d = document.createElement('div');
  d.className = 'win';
  Object.assign(d.style, { left: x + 'px', top: y + 'px', width: w + 'px', height: h + 'px' });
  const mid = Math.round(tb / 2);
  d.innerHTML =
    '<div class="tb' + (active ? ' act' : '') + '" style="height:' + tb + 'px">' +
    '<div class="ic" style="top:' + (mid - 5) + 'px"><i></i><i></i></div>' +
    '<span class="tt" style="line-height:' + tb + 'px">' + title + '</span>' +
    '<div class="mn" style="top:' + (mid + 4) + 'px"></div>' +
    '<div class="mx" style="top:' + (mid - 4) + 'px"></div>' +
    '<div class="cl" style="top:' + (mid - 6) + 'px">✕</div></div>';
  document.body.appendChild(d);
}

makeWin(0, 2, 512, 282, 21, 'USDJPY,Daily', false);
makeWin(514, 2, 510, 282, 21, 'USDJPY,H1', false);
makeWin(0, 286, 512, 297, 19, 'USDJPY,H4', false);
makeWin(514, 286, 510, 297, 19, 'USDJPY,M10', true);

// Daily
makePane({ plotLeft: 3, plotRight: 470, winRight: 511, top: 24, bottom: 264, yMin: 151.911, yMax: 162.293, yTicks: dailyYTicks, dec: 3,
  seps: dailySeps, price: CURRENT_PRICE, shift: 132, xLabels: dailyXLabels, legend: 'USDJPY, Daily:  US Dollar vs Japanese Yen',
  datasets: mainSets({ open0: dailyOpen0, close: dailyClose, high: dailyHigh, low: dailyLow, fast: dailyMaFast, mid: dailyMaMid, slow: dailyMaSlow, long: dailyMaLong, bbUp: dailyBbUp, bbLow: dailyBbLow, bbMid: dailyBbMid }) });

// H1
makePane({ plotLeft: 519, plotRight: 986, winRight: 1024, top: 24, bottom: 227, yMin: 159.987, yMax: 162.013, yTicks: h1YTicks, dec: 3,
  seps: h1Seps, price: CURRENT_PRICE, shift: 132, legend: 'USDJPY, H1:  US Dollar vs Japanese Yen',
  datasets: mainSets({ open0: h1Open0, close: h1Close, high: h1High, low: h1Low, fast: h1MaFast, mid: h1MaMid, slow: h1MaSlow, long: h1MaLong, bbUp: h1BbUp, bbLow: h1BbLow, bbMid: h1BbMid }) });
makePane({ plotLeft: 519, plotRight: 986, winRight: 1024, top: 229, bottom: 264, yMin: -0.1516, yMax: 0.343, yTicks: [0.2972, -0.0968], dec: 4,
  seps: h1Seps, xLabels: h1XLabels, label: 'MACD( 12, 26, 9 ) 0.0000 0.0000 -0.0123 0.0168 -0.0291',
  datasets: macdSets(h1MacdMain, h1MacdSignal, h1MacdHist) });

// H4
makePane({ plotLeft: 3, plotRight: 470, winRight: 511, top: 306, bottom: 526, yMin: 158.688, yMax: 162.054, yTicks: h4YTicks, dec: 3,
  seps: h4Seps, price: CURRENT_PRICE, shift: 132, legend: 'USDJPY, H4:  US Dollar vs Japanese Yen',
  datasets: mainSets({ open0: h4Open0, close: h4Close, high: h4High, low: h4Low, fast: h4MaFast, mid: h4MaMid, slow: h4MaSlow, long: h4MaLong, bbUp: h4BbUp, bbLow: h4BbLow, bbMid: h4BbMid }) });
makePane({ plotLeft: 3, plotRight: 470, winRight: 511, top: 528, bottom: 568, yMin: -0.1834, yMax: 0.4419, yTicks: [0.3836, -0.1198], dec: 4,
  seps: h4Seps, xLabels: h4XLabels, label: 'MACD( 12, 26, 9 ) 0.0000 0.0000 0.2392 0.3023 -0.0631',
  datasets: macdSets(h4MacdMain, h4MacdSignal, h4MacdHist) });

// M10
const m10Main = mainSets({ open0: m10Open0, close: m10Close, high: m10High, low: m10Low, fast: m10MaFast, mid: m10MaMid, slow: m10MaSlow, long: m10MaLong, bbUp: m10BbUp, bbLow: m10BbLow, bbMid: m10BbMid });
m10Main.unshift({ type: 'line', order: 0, showLine: false, clip: 0, pointRadius: 1.6, pointBorderWidth: 0, pointBackgroundColor: '#ffa500',
  data: m10Sar.map((v, i) => ({ x: i, y: v })) });
makePane({ plotLeft: 519, plotRight: 986, winRight: 1024, top: 306, bottom: 473, yMin: 161.032, yMax: 161.970, yTicks: m10YTicks, dec: 3,
  seps: m10Seps, price: CURRENT_PRICE, shift: 132, legend: 'USDJPY, M10:  US Dollar vs Japanese Yen', datasets: m10Main });
makePane({ plotLeft: 519, plotRight: 986, winRight: 1024, top: 475, bottom: 502, yMin: -0.162, yMax: 0.0838, yTicks: [0.0542, -0.1295], dec: 4,
  seps: m10Seps, label: 'MACD( 12, 26, 9 ) 0.0000 0.0000 -0.0525 -0.0419 -0.0105',
  datasets: macdSets(m10MacdMain, m10MacdSignal, m10MacdHist) });
makePane({ plotLeft: 519, plotRight: 986, winRight: 1024, top: 504, bottom: 535, yMin: -0.38, yMax: 73.56, yTicks: [73.56, 45, 25, 2.05, 0], dec: 2,
  seps: m10Seps, levels: [45, 25, 2.05], label: 'ADX Wilder(8) 59.14 8.18 36.83',
  datasets: [line(m10AdxMain, '#1f8f80', 2), line(m10AdxPlus, '#3b3bff', 1), line(m10AdxMinus, '#ff4a4a', 1)] });
makePane({ plotLeft: 519, plotRight: 986, winRight: 1024, top: 537, bottom: 568, yMin: 0, yMax: 100, yTicks: [100, 75, 50, 25, 0], dec: 2,
  seps: m10Seps, levels: [75, 50, 25], xLabels: m10XLabels, label: 'RSI(14) 34.82',
  datasets: [line(m10Rsi, '#1f8f80', 1.5)] });
</script>
</body>
</html>
